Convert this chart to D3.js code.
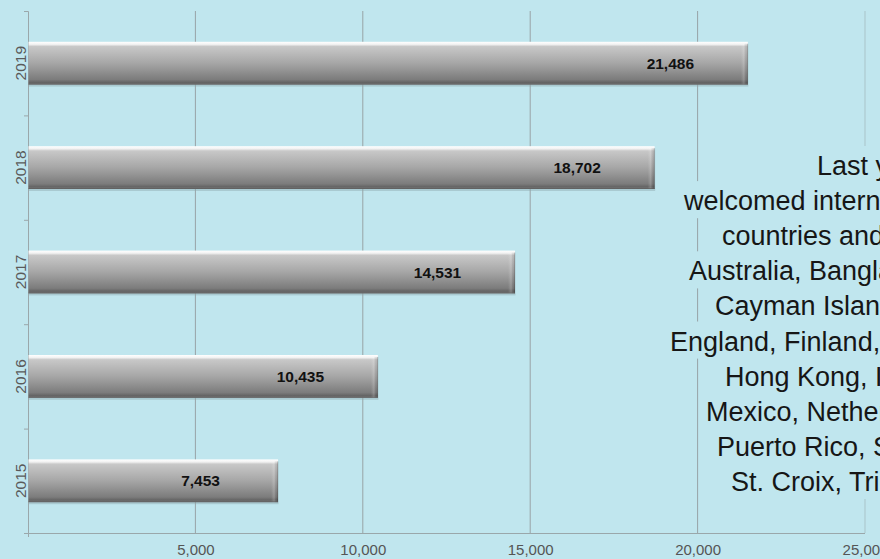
<!DOCTYPE html>
<html>
<head>
<meta charset="utf-8">
<script src="https://cdn.jsdelivr.net/npm/d3@7"></script>
<style>
  html, body { margin: 0; padding: 0; background: #c0e6ee; }
  svg { display: block; }
  .axis path, .axis line { stroke: #9aa7aa; }
  .axis text { fill: #555; font-family: "Liberation Sans", Arial, sans-serif; }
</style>
</head>
<body>
<svg width="880" height="559"></svg>
<script>
const years = ['2019', '2018', '2017', '2016', '2015'];
const visitors = [21486, 18702, 14531, 10435, 7453];
const xTicks = [5000, 10000, 15000, 20000, 25000];
const noteLines = [
  'Last year, we',
  'welcomed international visitors from 40',
  'countries and territories, including',
  'Australia, Bangladesh, Canada, the',
  'Cayman Islands, China, Denmark,',
  'England, Finland, France, Germany,',
  'Hong Kong, India, Japan,',
  'Mexico, Netherlands, Norway,',
  'Puerto Rico, Scotland, Spain,',
  'St. Croix, Trinidad and Tobago.'
];
// left edge of each note line (the paragraph is centred, cut off by the window)
const noteX = [817, 684, 722, 689, 715, 670, 725, 706, 717, 731];

const data = years.map((y, i) => ({year: y, value: visitors[i]}));

const svg = d3.select('svg');
const bg = '#c0e6ee';
svg.append('rect').attr('width', 880).attr('height', 559).attr('fill', bg);

const margin = {top: 11, right: 15, bottom: 26, left: 28};
const width = +svg.attr('width') - margin.left - margin.right;
const height = +svg.attr('height') - margin.top - margin.bottom;
const g = svg.append('g')
  .attr('transform', `translate(${margin.left},${margin.top})`);

const x = d3.scaleLinear()
  .domain([0, 25000])
  .range([0, width]);

const y = d3.scaleBand()
  .domain(years)
  .range([0, height])
  .paddingInner(0.59)
  .paddingOuter(0.295);

const yEdges = d3.scaleLinear()
  .domain([0, years.length])
  .range([height, 0]);

// gradients
const defs = svg.append('defs');
const grad = defs.append('linearGradient')
  .attr('id', 'barGrad').attr('x1', 0).attr('y1', 0).attr('x2', 0).attr('y2', 1);
[[0, '#ffffff'], [0.06, '#f2f2f2'], [0.11, '#c8c8c8'], [0.5, '#a6a6a6'],
 [0.88, '#7c7c7c'], [0.95, '#646464'], [1, '#7d7d7d']]
  .forEach(s => grad.append('stop').attr('offset', s[0]).attr('stop-color', s[1]));
const capGrad = defs.append('linearGradient')
  .attr('id', 'capGrad').attr('x1', 0).attr('y1', 0).attr('x2', 1).attr('y2', 0);
[[0, 'rgba(255,255,255,0)'], [0.45, 'rgba(255,255,255,0.18)'], [0.8, 'rgba(0,0,0,0.08)'], [1, 'rgba(0,0,0,0.3)']]
  .forEach(s => capGrad.append('stop').attr('offset', s[0]).attr('stop-color', s[1]));

// gridlines
g.append('g')
  .attr('class', 'grid')
  .selectAll('line')
  .data(xTicks)
  .enter().append('line')
    .attr('x1', d => x(d))
    .attr('x2', d => x(d))
    .attr('y1', 0)
    .attr('y2', height)
    .attr('stroke', (d, i) => i === xTicks.length - 1 ? '#a9c4c9' : '#98a3a6')
    .attr('stroke-width', 1);

// axes
g.append('g')
  .attr('class', 'axis axis--x')
  .attr('transform', `translate(0,${height})`)
  .call(d3.axisBottom(x)
    .tickValues(xTicks)
    .tickSize(0)
    .tickPadding(11)
    .tickFormat(d3.format(','))
  )
  .call(a => a.select('.domain').attr('d', `M0.5,4V0.5H${x(25000)}`))
  .selectAll('text')
    .style('font-size', '15px');

g.append('g')
  .attr('class', 'axis axis--y')
  .call(d3.axisLeft(yEdges)
    .ticks(years.length)
    .tickSize(4)
    .tickSizeOuter(4)
    .tickFormat('')
  );

g.append('g')
  .selectAll('text')
  .data(years)
  .enter().append('text')
    .attr('transform', d => `translate(-2,${y(d) + y.bandwidth() / 2}) rotate(-90)`)
    .attr('text-anchor', 'middle')
    .attr('fill', '#5a5a5a')
    .style('font-family', '"Liberation Sans", Arial, sans-serif')
    .style('font-size', '15.5px')
    .text(d => d);

// bars
const bar = g.selectAll('.bar')
  .data(data)
  .enter().append('g')
    .attr('class', 'bar');

bar.append('rect')
  .attr('x', 1)
  .attr('y', d => y(d.year) + 2)
  .attr('width', d => x(d.value))
  .attr('height', y.bandwidth())
  .attr('fill', '#8fa9ae')
  .attr('opacity', 0.45);

bar.append('rect')
  .attr('x', 0.5)
  .attr('y', d => y(d.year))
  .attr('width', d => x(d.value))
  .attr('height', y.bandwidth())
  .attr('fill', 'url(#barGrad)');

bar.append('rect')
  .attr('x', d => x(d.value) - 6.5)
  .attr('y', d => y(d.year) + 2)
  .attr('width', 7)
  .attr('height', y.bandwidth() - 2)
  .attr('fill', 'url(#capGrad)');

bar.append('line')
  .attr('x1', 0.5)
  .attr('x2', d => x(d.value) + 0.5)
  .attr('y1', d => y(d.year) + y.bandwidth() - 0.5)
  .attr('y2', d => y(d.year) + y.bandwidth() - 0.5)
  .attr('stroke', '#555')
  .attr('stroke-opacity', 0.6);

bar.append('text')
  .attr('x', d => x(d.value) - 77)
  .attr('y', d => y(d.year) + y.bandwidth() / 2)
  .attr('dy', '0.36em')
  .attr('text-anchor', 'middle')
  .attr('fill', '#111')
  .style('font-family', '"Liberation Sans", Arial, sans-serif')
  .style('font-weight', 'bold')
  .style('font-size', '15.5px')
  .text(d => d3.format(',')(d.value));

// note paragraph, each line on its own background strip
const note = svg.append('g').attr('class', 'note');
const baseline0 = 175;
const lineHeight = 35.1;

const noteText = note.selectAll('text')
  .data(noteLines)
  .enter().append('text')
    .attr('x', (d, i) => noteX[i])
    .attr('y', (d, i) => baseline0 + i * lineHeight)
    .attr('fill', '#161616')
    .style('font-family', '"Liberation Sans", Arial, sans-serif')
    .style('font-size', '27px')
    .text(d => d);

noteText.each(function(d, i) {
  const w = this.getComputedTextLength();
  note.insert('rect', 'text')
    .attr('x', noteX[i] - 3)
    .attr('y', baseline0 + i * lineHeight - 29)
    .attr('width', w + 6)
    .attr('height', lineHeight + 2)
    .attr('fill', bg);
});
</script>
</body>
</html>
